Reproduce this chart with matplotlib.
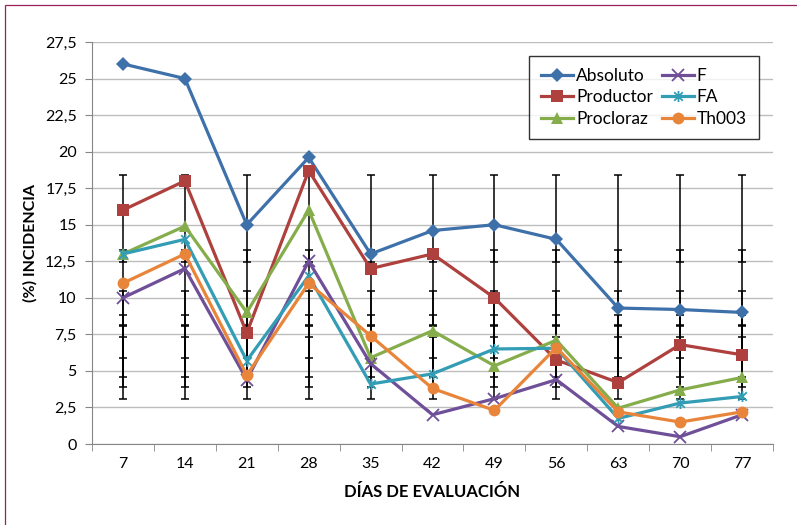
import numpy as np
import matplotlib
matplotlib.use('Agg')
import matplotlib.pyplot as plt
from matplotlib.path import Path
from matplotlib.patches import Rectangle

plt.rcParams['font.family'] = ['Lato', 'DejaVu Sans']

# data
dias = ['7', '14', '21', '28', '35', '42', '49', '56', '63', '70', '77']
absoluto = [26.0, 25.0, 15.0, 19.6, 13.0, 14.6, 15.0, 14.0, 9.3, 9.2, 9.0]
productor = [16.0, 18.0, 7.6, 18.7, 12.0, 13.0, 10.0, 5.75, 4.2, 6.8, 6.1]
procloraz = [13.0, 14.9, 9.0, 16.0, 5.9, 7.75, 5.35, 7.1, 2.45, 3.7, 4.55]
serie_f = [10.0, 12.0, 4.4, 12.5, 5.5, 2.0, 3.1, 4.4, 1.2, 0.5, 2.0]
serie_fa = [13.0, 14.0, 5.7, 11.5, 4.1, 4.8, 6.5, 6.55, 1.75, 2.8, 3.25]
th003 = [11.0, 13.0, 4.7, 11.0, 7.4, 3.8, 2.3, 6.6, 2.2, 1.5, 2.2]

# error bar extents per series (same at every day)
err_low = [12.45, 8.15, 5.9, 3.1, 4.6, 3.9]
err_high = [18.4, 13.3, 10.5, 7.35, 8.8, 8.05]

nombres = ['Absoluto', 'Productor', 'Procloraz', 'F', 'FA', 'Th003']
series = [absoluto, productor, procloraz, serie_f, serie_fa, th003]
colores = ['#3E70AA', '#AE403D', '#86AD4B', '#6E4F98', '#329DB5', '#E8853A']

# Excel-like "star" marker: x with a vertical stroke
star = Path([(-1, -1), (1, 1), (-1, 1), (1, -1), (0, -1.3), (0, 1.3)],
            [Path.MOVETO, Path.LINETO, Path.MOVETO, Path.LINETO, Path.MOVETO, Path.LINETO])
marcadores = ['D', 's', '^', 'x', star, 'o']
tamanos = [7, 8.5, 8, 8, 8, 8.5]

fig = plt.figure(figsize=(7.97, 5.25), dpi=100)
ax = fig.add_axes([92 / 797, 1 - 444 / 525, 681 / 797, 402 / 525])

x = np.arange(len(dias))

for lo, hi in zip(err_low, err_high):
    mid = (lo + hi) / 2
    half = (hi - lo) / 2
    ax.errorbar(x, [mid] * len(x), yerr=half, fmt='none', ecolor='black',
                elinewidth=1.1, capsize=3, capthick=1.1, zorder=2)

for nombre, vals, c, m, s in zip(nombres, series, colores, marcadores, tamanos):
    if m in ('x', star):
        ax.plot(x, vals, color=c, lw=2.3, marker=m, markersize=s,
                markeredgewidth=1.3, label=nombre, zorder=3)
    else:
        ax.plot(x, vals, color=c, lw=2.3, marker=m, markersize=s,
                markeredgewidth=0, label=nombre, zorder=3)

ax.set_xlim(-0.5, len(dias) - 0.5)
ax.set_ylim(0, 27.5)
ax.set_xticks(x)
ax.set_xticklabels(dias, fontsize=11.5)
ax.set_xticks(np.arange(len(dias) + 1) - 0.5, minor=True)
ax.tick_params(axis='x', which='major', length=0, pad=9)
ax.tick_params(axis='x', which='minor', length=5, color='#868686', direction='out')

yt = np.arange(0, 27.6, 2.5)
ax.set_yticks(yt)
ax.set_yticklabels([('%g' % v).replace('.', ',') for v in yt], fontsize=11.5)
ax.tick_params(axis='y', length=5, color='#868686', pad=6)
ax.grid(axis='y', color='#BDBDBD', lw=1)
ax.set_axisbelow(True)

for side in ['top', 'right']:
    ax.spines[side].set_visible(False)
ax.spines['left'].set_color('#868686')
ax.spines['bottom'].set_color('#868686')

ax.set_ylabel('(%) INCIDENCIA', fontsize=11.5, fontweight='bold', labelpad=5)
ax.set_xlabel('DÍAS DE EVALUACIÓN', fontsize=12, fontweight='bold', labelpad=10)

leg = ax.legend(loc='upper left', bbox_to_anchor=(0.642, 0.965), ncol=2,
                fontsize=12.5, frameon=True, fancybox=False, edgecolor='black',
                handlelength=1.85, labelspacing=0.3, columnspacing=0.5,
                handletextpad=0.15, borderpad=0.7, borderaxespad=0)
leg.get_frame().set_linewidth(1.0)

# dark magenta border of the chart area
fig.patches.append(Rectangle((4.5 / 797, -0.1), 1.2, 1 - 4.5 / 525 + 0.1,
                             transform=fig.transFigure, fill=False,
                             edgecolor='#9C2058', lw=0.9))

fig.savefig('out.png', dpi=100)
